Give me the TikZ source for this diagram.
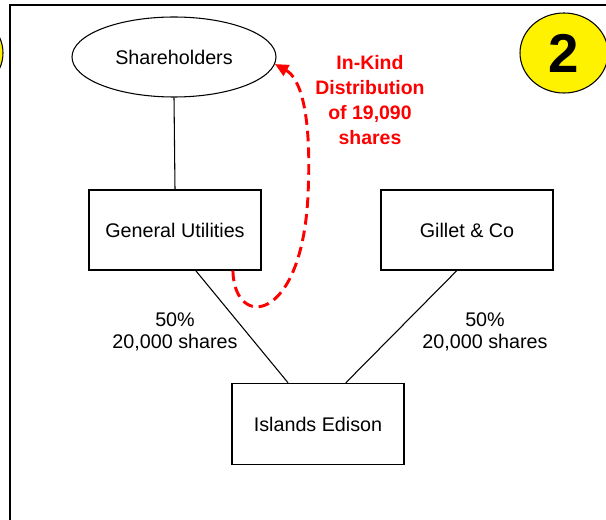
\documentclass[tikz,border=0pt]{standalone}
\usepackage{fontspec}
\setmainfont{Liberation Sans}
\usetikzlibrary{shapes.geometric,arrows.meta}

\begin{document}
\begin{tikzpicture}[x=0.75pt,y=-0.75pt,
  entity/.style={draw,rectangle,minimum width=129pt,minimum height=60pt,inner sep=0pt,font=\fontsize{14.8}{16.5}\selectfont},
  holder/.style={draw,ellipse,minimum width=153pt,minimum height=60pt,inner sep=0pt,font=\fontsize{14.8}{16.5}\selectfont},
  badge/.style={draw,ellipse,fill=yellow,minimum width=66pt,minimum height=60pt,inner sep=0pt,font=\fontsize{41}{41}\selectfont\bfseries},
  share/.style={align=center,font=\fontsize{14.8}{16.5}\selectfont},
  note/.style={align=center,text=red,font=\fontsize{14.6}{18.75}\selectfont\bfseries},
  line width=0.8pt]
        \useasboundingbox (0,0) rectangle (606,520);
        \draw[line width=1.5pt] (10,520) -- (10,5) -- (606,5);
        \node[badge] (prev) at (-41,53) {};
        \node[badge] (step2) at (564,53) {2};
        \node[holder] (sh) at (174,57) {Shareholders};
        \node[entity] (gu) at (175,230) {General Utilities};
        \node[entity] (gc) at (467,230) {Gillet \& Co};
        \node[entity,minimum height=61pt] (ie) at (318,424) {Islands Edison};
        \draw (sh.south) -- (gu.north);
        \draw (gu.-63) -- (ie.126);
        \draw (gc.-104) -- (ie.56);
        \node[share] (gushare) at (175,332) {50\%\\20,000 shares};
        \node[share] (gcshare) at (485,332) {50\%\\20,000 shares};
        % in-kind distribution back to the shareholders
        \draw[red,line width=2.2pt,dash pattern=on 8pt off 4.5pt,-{Triangle[length=10pt,width=9pt]}]
          (gu.-35) .. controls (234,330) and (302,324) .. (308,195)
          .. controls (312,112) and (300,78) .. (sh.-4);
        \node[note] (dist) at (370,100) {In-Kind\\Distribution\\of 19,090\\shares};
      \end{tikzpicture}
\end{document}
